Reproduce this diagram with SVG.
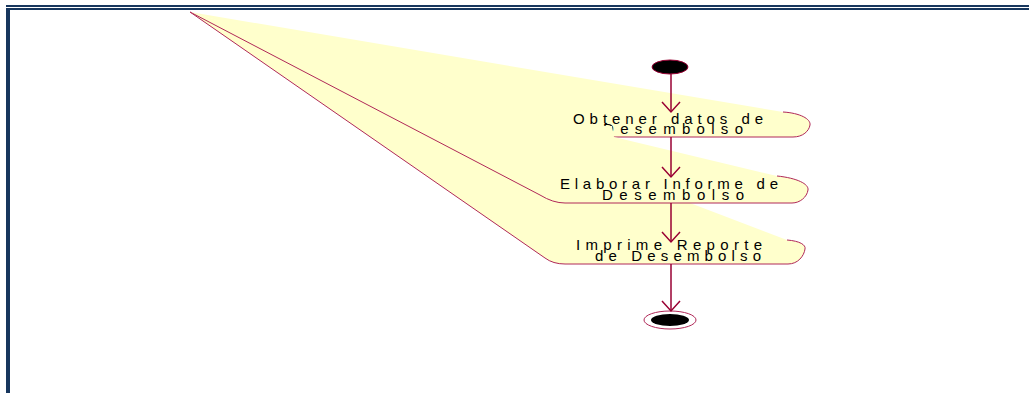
<svg xmlns="http://www.w3.org/2000/svg" width="1029" height="393" viewBox="0 0 1029 393">
<style>
.frame{fill:#17365d}
.fill{fill:#ffffcc;stroke:none}
.edge{fill:none;stroke:#b02858;stroke-width:1}
.lbl{font-family:"Liberation Sans",Arial,sans-serif;font-size:15px;fill:#000}
.conn{fill:none;stroke:#990033;stroke-width:1.5}
</style>
<defs>
<marker id="arr" viewBox="-12 -11 14 22" refX="0" refY="0" markerWidth="14" markerHeight="22" markerUnits="userSpaceOnUse" orient="auto">
<path d="M-10,-9 L0,0 L-10,9" fill="none" stroke="#990033" stroke-width="1.5"/>
</marker>
</defs>
<rect width="1029" height="393" fill="#fff"/>
<g id="frame">
<rect class="frame" x="6" y="5" width="1023" height="2"/>
<rect class="frame" x="6" y="8" width="1023" height="2"/>
<rect class="frame" x="6" y="8" width="4" height="385"/>
</g>
<g id="act1">
<path class="fill" d="M190,12 L783,112 C800,113 811,119 810,125 C809,131 803,137 793,137 L613,137 C560,137 300,45 190,12 Z"/>
<path class="edge" d="M783,112 C800,113 811,119 810,125 C809,131 803,137 793,137 L613,137"/>
<text class="lbl" x="573" y="123.5" textLength="190" lengthAdjust="spacing">Obtener datos de</text>
<text class="lbl" x="603" y="134" textLength="140" lengthAdjust="spacing">Desembolso</text>
</g>
<g id="act3">
<path class="fill" d="M190,12 L787,240 C800,241 806,245 805,249 C804,256 798,264 788,264 L565,264 Q553,264 545,258 L190,12 Z"/>
<path class="edge" d="M787,240 C800,241 806,245 805,249 C804,256 798,264 788,264 L565,264 Q553,264 545,258 L190,12"/>
<text class="lbl" x="576" y="250" textLength="186" lengthAdjust="spacing">Imprime Reporte</text>
<text class="lbl" x="595" y="260.5" textLength="166" lengthAdjust="spacing">de Desembolso</text>
</g>
<g id="act2">
<path class="fill" d="M190,12 L572,125.5 L612,126 L614,137 L777,176 C797,178 809,184 808,190 C807,197 800,203 792,203 L565,203 Q553,203 540,195 L190,12 Z"/>
<path class="edge" d="M777,176 C797,178 809,184 808,190 C807,197 800,203 792,203 L565,203 Q553,203 540,195 L190,12"/>
<text class="lbl" x="560" y="189" textLength="218" lengthAdjust="spacing">Elaborar Informe de</text>
<text class="lbl" x="602" y="200" textLength="142" lengthAdjust="spacing">Desembolso</text>
</g>
<g id="start">
<ellipse cx="670" cy="67" rx="18" ry="7" fill="#000" stroke="#990033" stroke-width="1"/>
</g>
<g id="end">
<ellipse cx="670" cy="320" rx="26" ry="9" fill="#fff" stroke="#b02858" stroke-width="1"/>
<ellipse cx="670" cy="320" rx="19" ry="6" fill="#000"/>
</g>
<g id="connectors">
<path class="conn" d="M671,74 L671,112" marker-end="url(#arr)"/>
<path class="conn" d="M671,137 L671,177" marker-end="url(#arr)"/>
<path class="conn" d="M671,203 L671,242" marker-end="url(#arr)"/>
<path class="conn" d="M671,264 L671,311" marker-end="url(#arr)"/>
</g>
</svg>
